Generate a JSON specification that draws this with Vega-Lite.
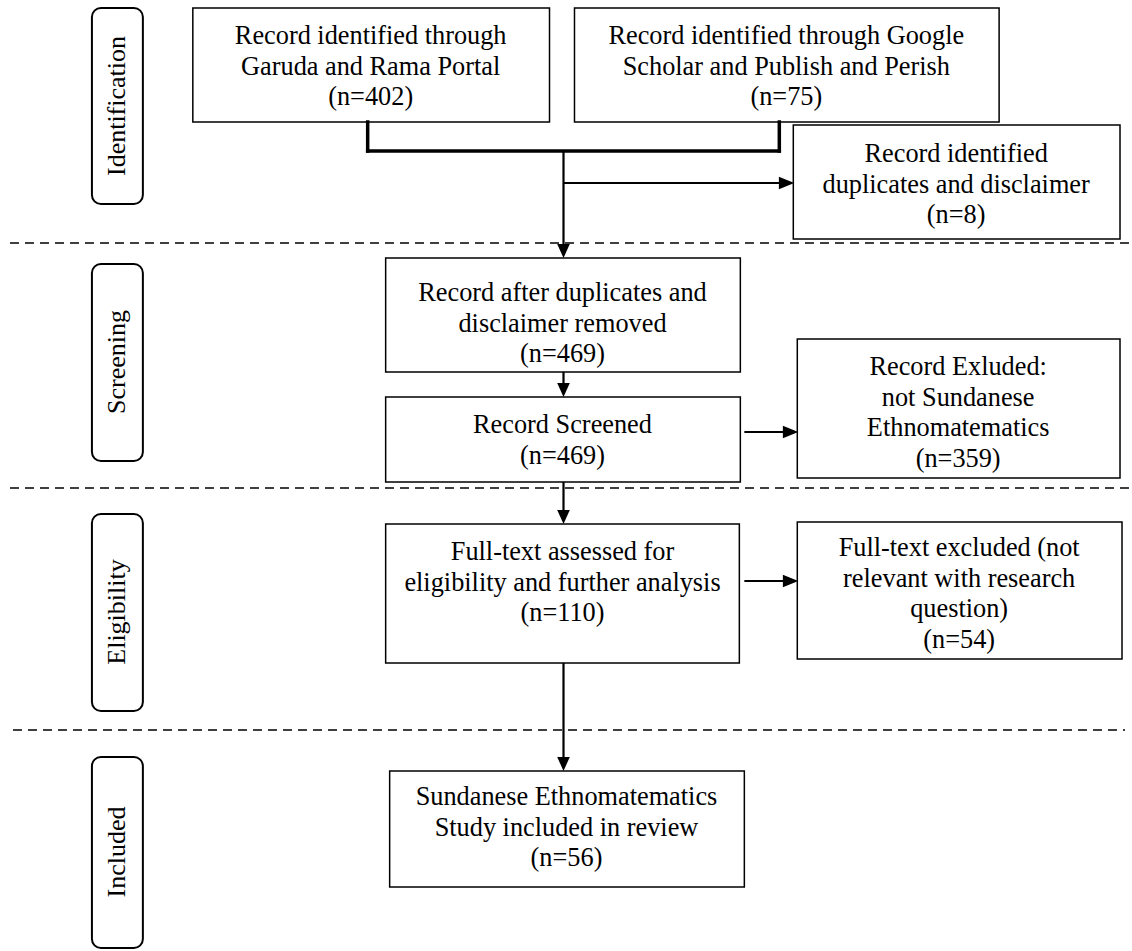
{
  "$schema": "https://vega.github.io/schema/vega-lite/v6.json",
  "width": 1132,
  "height": 951,
  "padding": 0,
  "autosize": {"type": "fit", "contains": "padding"},
  "background": "white",
  "config": {"view": {"stroke": null}},
  "datasets": {
    "boxes": [
      {"x1": 193, "x2": 550, "y1": 8, "y2": 122, "cx": 371, "cy": 36, "label": "Record identified through\nGaruda and Rama Portal\n(n=402)"},
      {"x1": 575, "x2": 1000, "y1": 8, "y2": 122, "cx": 787, "cy": 36, "label": "Record identified through Google\nScholar and Publish and Perish\n(n=75)"},
      {"x1": 794, "x2": 1121, "y1": 125, "y2": 239, "cx": 957, "cy": 154, "label": "Record identified\nduplicates and disclaimer\n(n=8)"},
      {"x1": 386, "x2": 741, "y1": 258, "y2": 372, "cx": 563, "cy": 293, "label": "Record after duplicates and\ndisclaimer removed\n(n=469)"},
      {"x1": 386, "x2": 741, "y1": 397, "y2": 482, "cx": 563, "cy": 425, "label": "Record Screened\n(n=469)"},
      {"x1": 798, "x2": 1121, "y1": 339, "y2": 478, "cx": 959, "cy": 367, "label": "Record Exluded:\nnot Sundanese\nEthnomatematics\n(n=359)"},
      {"x1": 386, "x2": 740, "y1": 524, "y2": 663, "cx": 563, "cy": 552, "label": "Full-text assessed for\neligibility and further analysis\n(n=110)"},
      {"x1": 798, "x2": 1123, "y1": 522, "y2": 659, "cx": 960, "cy": 548, "label": "Full-text excluded (not\nrelevant with research\nquestion)\n(n=54)"},
      {"x1": 390, "x2": 745, "y1": 771, "y2": 887, "cx": 567, "cy": 797, "label": "Sundanese Ethnomatematics\nStudy included in review\n(n=56)"}
    ],
    "phases": [
      {"x1": 92, "x2": 143, "y1": 8, "y2": 204, "cx": 117, "cy": 106, "label": "Identification"},
      {"x1": 92, "x2": 143, "y1": 264, "y2": 461, "cx": 117, "cy": 362, "label": "Screening"},
      {"x1": 92, "x2": 143, "y1": 514, "y2": 711, "cx": 117, "cy": 612, "label": "Eligibility"},
      {"x1": 92, "x2": 143, "y1": 757, "y2": 948, "cx": 117, "cy": 852, "label": "Included"}
    ],
    "dividers": [
      {"x1": 10, "x2": 1132, "y": 243},
      {"x1": 10, "x2": 1132, "y": 488},
      {"x1": 13, "x2": 1126, "y": 730}
    ],
    "thick": [
      {"x1": 368, "x2": 368, "y1": 122, "y2": 151},
      {"x1": 368, "x2": 780, "y1": 151, "y2": 151},
      {"x1": 780, "x2": 780, "y1": 122, "y2": 151}
    ],
    "thin": [
      {"x1": 564, "x2": 564, "y1": 151, "y2": 248},
      {"x1": 564, "x2": 785, "y1": 183, "y2": 183},
      {"x1": 564, "x2": 564, "y1": 372, "y2": 388},
      {"x1": 564, "x2": 564, "y1": 482, "y2": 515},
      {"x1": 745, "x2": 790, "y1": 432, "y2": 432},
      {"x1": 745, "x2": 790, "y1": 581, "y2": 581},
      {"x1": 564, "x2": 564, "y1": 663, "y2": 762}
    ],
    "arrows": [
      {"x": 564, "y": 258, "dir": "down"},
      {"x": 795, "y": 183, "dir": "right"},
      {"x": 564, "y": 397, "dir": "down"},
      {"x": 564, "y": 524, "dir": "down"},
      {"x": 799, "y": 432, "dir": "right"},
      {"x": 799, "y": 581, "dir": "right"},
      {"x": 564, "y": 771, "dir": "down"}
    ]
  },
  "layer": [
    {
      "data": {"name": "dividers"},
      "mark": {"type": "rule", "color": "black", "strokeWidth": 1.5, "strokeDash": [9, 6]},
      "encoding": {
        "x": {"field": "x1", "type": "quantitative", "scale": {"domain": [0, 1132], "nice": false, "zero": false}, "axis": null},
        "x2": {"field": "x2"},
        "y": {"field": "y", "type": "quantitative", "scale": {"domain": [0, 951], "nice": false, "zero": false, "reverse": true}, "axis": null}
      }
    },
    {
      "data": {"name": "boxes"},
      "mark": {"type": "rect", "fill": "white", "stroke": "black", "strokeWidth": 1.5},
      "encoding": {
        "x": {"field": "x1", "type": "quantitative", "scale": {"domain": [0, 1132], "nice": false, "zero": false}, "axis": null},
        "x2": {"field": "x2"},
        "y": {"field": "y1", "type": "quantitative", "scale": {"domain": [0, 951], "nice": false, "zero": false, "reverse": true}, "axis": null},
        "y2": {"field": "y2"}
      }
    },
    {
      "data": {"name": "phases"},
      "mark": {"type": "rect", "fill": "white", "stroke": "black", "strokeWidth": 2, "cornerRadius": 9},
      "encoding": {
        "x": {"field": "x1", "type": "quantitative", "axis": null},
        "x2": {"field": "x2"},
        "y": {"field": "y1", "type": "quantitative", "axis": null},
        "y2": {"field": "y2"}
      }
    },
    {
      "data": {"name": "thick"},
      "mark": {"type": "rule", "color": "black", "strokeWidth": 3.5, "strokeCap": "square"},
      "encoding": {
        "x": {"field": "x1", "type": "quantitative", "axis": null},
        "x2": {"field": "x2"},
        "y": {"field": "y1", "type": "quantitative", "axis": null},
        "y2": {"field": "y2"}
      }
    },
    {
      "data": {"name": "thin"},
      "mark": {"type": "rule", "color": "black", "strokeWidth": 2.2},
      "encoding": {
        "x": {"field": "x1", "type": "quantitative", "axis": null},
        "x2": {"field": "x2"},
        "y": {"field": "y1", "type": "quantitative", "axis": null},
        "y2": {"field": "y2"}
      }
    },
    {
      "data": {"name": "arrows"},
      "mark": {"type": "point", "filled": true, "fill": "black", "opacity": 1, "size": 784, "strokeWidth": 0},
      "encoding": {
        "x": {"field": "x", "type": "quantitative", "axis": null},
        "y": {"field": "y", "type": "quantitative", "axis": null},
        "shape": {"field": "dir", "type": "nominal", "scale": {"domain": ["down", "right"], "range": ["M -0.45 -1 L 0.45 -1 L 0 0 Z", "M -1.1 -0.45 L -1.1 0.45 L 0 0 Z"]}, "legend": null}
      }
    },
    {
      "data": {"name": "boxes"},
      "mark": {"type": "text", "font": "Liberation Serif", "fontSize": 26.3, "lineHeight": 30.5, "lineBreak": "\n", "align": "center", "baseline": "middle", "color": "black"},
      "encoding": {
        "x": {"field": "cx", "type": "quantitative", "axis": null},
        "y": {"field": "cy", "type": "quantitative", "axis": null},
        "text": {"field": "label"}
      }
    },
    {
      "data": {"name": "phases"},
      "mark": {"type": "text", "font": "Liberation Serif", "fontSize": 26, "angle": 270, "align": "center", "baseline": "middle", "color": "black"},
      "encoding": {
        "x": {"field": "cx", "type": "quantitative", "axis": null},
        "y": {"field": "cy", "type": "quantitative", "axis": null},
        "text": {"field": "label"}
      }
    }
  ]
}
